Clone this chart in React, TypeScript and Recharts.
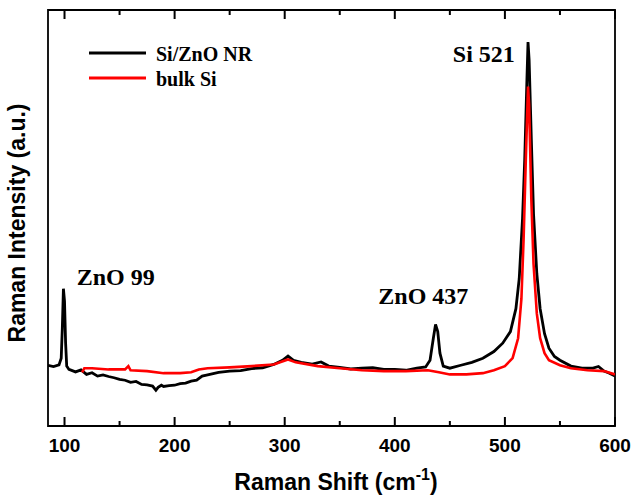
import React from "react";
import { LineChart, Line, XAxis, YAxis, Legend, ReferenceDot, ReferenceArea } from "recharts";

// Raman spectra (arbitrary intensity units, 0..100)
const siZnOShift = [
  85, 90, 95, 97, 98, 99, 100, 101, 102, 104, 110, 115, 120, 125, 130, 135, 140, 145, 150, 155,
  160, 165, 170, 175, 180, 183, 185, 188, 190, 195, 200, 205, 210, 215, 220, 225, 230, 235, 240,
  250, 260, 270, 280, 290, 298, 303, 308, 315, 325, 333, 340, 350, 360, 370, 380, 390, 400, 410,
  420, 428, 432, 435, 437, 439, 441, 444, 450, 460, 470, 480, 490, 498, 505, 510, 513, 516, 518,
  520, 521, 522, 524, 526, 529, 532, 536, 540, 545, 550, 560, 570, 580, 585, 590, 595, 600,
];
const siZnOIntensity = [
  14.6, 14.3, 14.7, 16.3, 23.4, 33.0, 30.0, 19.9, 14.4, 13.6, 13.0, 13.5, 12.4, 12.8, 12.0, 12.3,
  11.9, 11.6, 11.2, 11.0, 10.5, 10.7, 10.0, 9.9, 9.6, 8.6, 9.3, 9.8, 9.5, 9.7, 9.8, 10.2, 10.3,
  10.8, 11.0, 12.0, 12.3, 12.6, 12.9, 13.2, 13.3, 13.8, 14.0, 14.8, 15.8, 16.8, 15.8, 15.3, 14.9,
  15.4, 14.4, 14.1, 13.7, 13.9, 14.0, 13.6, 13.6, 13.4, 13.9, 14.2, 15.8, 21.1, 24.4, 22.7, 17.5,
  14.4, 13.9, 14.6, 15.3, 16.3, 17.9, 19.9, 22.7, 28.2, 35.4, 49.8, 64.1, 83.3, 92.3, 88.0, 68.9,
  51.0, 36.6, 28.2, 22.2, 18.7, 16.7, 15.8, 14.4, 13.9, 13.9, 14.3, 13.2, 12.7, 12.0,
];

const bulkSiShift = [
  116, 118, 125, 140, 155, 158, 160, 175, 190, 205, 215, 222, 230, 250, 270, 290, 303, 310, 330,
  350, 370, 390, 410, 430, 440, 450, 465, 480, 490, 500, 507, 512, 515, 517, 519, 521, 522, 524,
  526, 529, 532, 536, 540, 550, 560, 575, 590, 600,
];
const bulkSiIntensity = [
  12.9, 13.9, 13.9, 13.6, 13.6, 14.4, 13.4, 13.2, 12.7, 12.7, 12.9, 13.6, 13.9, 14.1, 14.4, 14.8,
  16.0, 15.3, 14.4, 13.9, 13.4, 13.2, 13.2, 13.4, 12.9, 12.4, 12.4, 12.7, 13.4, 14.4, 16.3, 21.1,
  30.6, 45.0, 64.1, 81.6, 77.3, 54.5, 39.0, 27.0, 21.1, 17.5, 15.8, 14.6, 13.9, 13.4, 13.2, 12.4,
];

const xTicks = [100, 150, 200, 250, 300, 350, 400, 450, 500, 550, 600];
const xDomain = [85, 600];
const yDomain = [0, 100];

const siZnOData = siZnOShift.map((x, i) => ({ x, y: siZnOIntensity[i] }));
const bulkSiData = bulkSiShift.map((x, i) => ({ x, y: bulkSiIntensity[i] }));

const SANS = "'Liberation Sans', Arial, sans-serif";
const SERIF = "'Liberation Serif', 'Times New Roman', serif";

// ticks point into the plot: long at every 100, short at the 50s
function BottomTick(props: any) {
  const { x, y, payload } = props;
  const major = payload.value % 100 === 0;
  const len = major ? 9 : 5;
  return (
    <g>
      <rect x={x - 1} y={y - len} width={2} height={len} fill="#000" />
      {major && (
        <text x={x} y={y + 26} textAnchor="middle" fontFamily={SANS} fontWeight="bold" fontSize={19} fill="#000">
          {payload.value}
        </text>
      )}
    </g>
  );
}

function TopTick(props: any) {
  const { x, y, payload } = props;
  const len = payload.value % 100 === 0 ? 9 : 5;
  return <rect x={x - 1} y={y} width={2} height={len} fill="#000" />;
}

function XLabel() {
  return (
    <text x={336} y={490} textAnchor="middle" fontFamily={SANS} fontWeight="bold" fontSize={23} fill="#000">
      Raman Shift (cm
      <tspan dy={-10} fontSize={16}>-1</tspan>
      <tspan dy={10}>)</tspan>
    </text>
  );
}

function YLabel() {
  return (
    <text
      x={25}
      y={223}
      transform="rotate(-90, 25, 223)"
      textAnchor="middle"
      fontFamily={SANS}
      fontWeight="bold"
      fontSize={23}
      fill="#000"
    >
      Raman Intensity (a.u.)
    </text>
  );
}

function LegendBox() {
  const rows = [
    { name: "Si/ZnO NR", color: "#000000", y: 53 },
    { name: "bulk Si", color: "#ff0000", y: 78 },
  ];
  return (
    <svg width={300} height={100} style={{ display: "block" }}>
      {rows.map((r) => (
        <g key={r.name}>
          <line x1={89} x2={146} y1={r.y} y2={r.y} stroke={r.color} strokeWidth={3} />
          <text x={156} y={r.y + 8} fontFamily={SERIF} fontWeight="bold" fontSize={20} fill="#000">
            {r.name}
          </text>
        </g>
      ))}
    </svg>
  );
}

function peakLabel(text: string, anchor: "start" | "end") {
  return (p: any) => (
    <text
      x={p.viewBox.x}
      y={p.viewBox.y}
      textAnchor={anchor}
      fontFamily={SERIF}
      fontWeight="bold"
      fontSize={24}
      fill="#000"
    >
      {text}
    </text>
  );
}

export default function App() {
  return (
    <div style={{ position: "absolute", left: 0, top: 0, width: 632, height: 498, background: "#fff" }}>
      <LineChart width={632} height={498} margin={{ top: 9, right: 17, bottom: 0, left: 47 }}>
        <XAxis
          xAxisId="b"
          type="number"
          dataKey="x"
          domain={xDomain}
          allowDataOverflow
          ticks={xTicks}
          interval={0}
          tick={<BottomTick />}
          tickLine={false}
          tickSize={0}
          tickMargin={0}
          height={72}
          axisLine={false}
          label={{ content: XLabel }}
        />
        <XAxis
          xAxisId="t"
          orientation="top"
          type="number"
          dataKey="x"
          domain={xDomain}
          allowDataOverflow
          ticks={xTicks}
          interval={0}
          tick={<TopTick />}
          tickLine={false}
          tickSize={0}
          tickMargin={0}
          height={1}
          axisLine={false}
        />
        <YAxis
          yAxisId="l"
          type="number"
          domain={yDomain}
          allowDataOverflow
          width={1}
          tick={false}
          tickLine={false}
          axisLine={false}
          label={{ content: YLabel }}
        />
        <Legend
          layout="vertical"
          align="center"
          verticalAlign="middle"
          wrapperStyle={{ left: 0, top: 0, width: 300, height: 100 }}
          content={() => <LegendBox />}
        />
        <Line
          xAxisId="b"
          yAxisId="l"
          data={siZnOData}
          dataKey="y"
          name="Si/ZnO NR"
          type="linear"
          stroke="#000000"
          strokeWidth={2.8}
          dot={false}
          isAnimationActive={false}
        />
        <Line
          xAxisId="b"
          yAxisId="l"
          data={bulkSiData}
          dataKey="y"
          name="bulk Si"
          type="linear"
          stroke="#ff0000"
          strokeWidth={2.6}
          dot={false}
          isAnimationActive={false}
        />
        <ReferenceArea
          xAxisId="b"
          yAxisId="l"
          x1={xDomain[0]}
          x2={xDomain[1]}
          y1={yDomain[0]}
          y2={yDomain[1]}
          fill="none"
          fillOpacity={0}
          stroke="#000"
          strokeWidth={1.8}
          ifOverflow="visible"
        />
        <ReferenceDot xAxisId="b" yAxisId="l" x={111} y={34} r={0} stroke="none" fill="none" label={{ content: peakLabel("ZnO 99", "start") }} />
        <ReferenceDot xAxisId="b" yAxisId="l" x={385} y={29.3} r={0} stroke="none" fill="none" label={{ content: peakLabel("ZnO 437", "start") }} />
        <ReferenceDot xAxisId="b" yAxisId="l" x={509} y={87.5} r={0} stroke="none" fill="none" label={{ content: peakLabel("Si 521", "end") }} />
      </LineChart>
    </div>
  );
}
